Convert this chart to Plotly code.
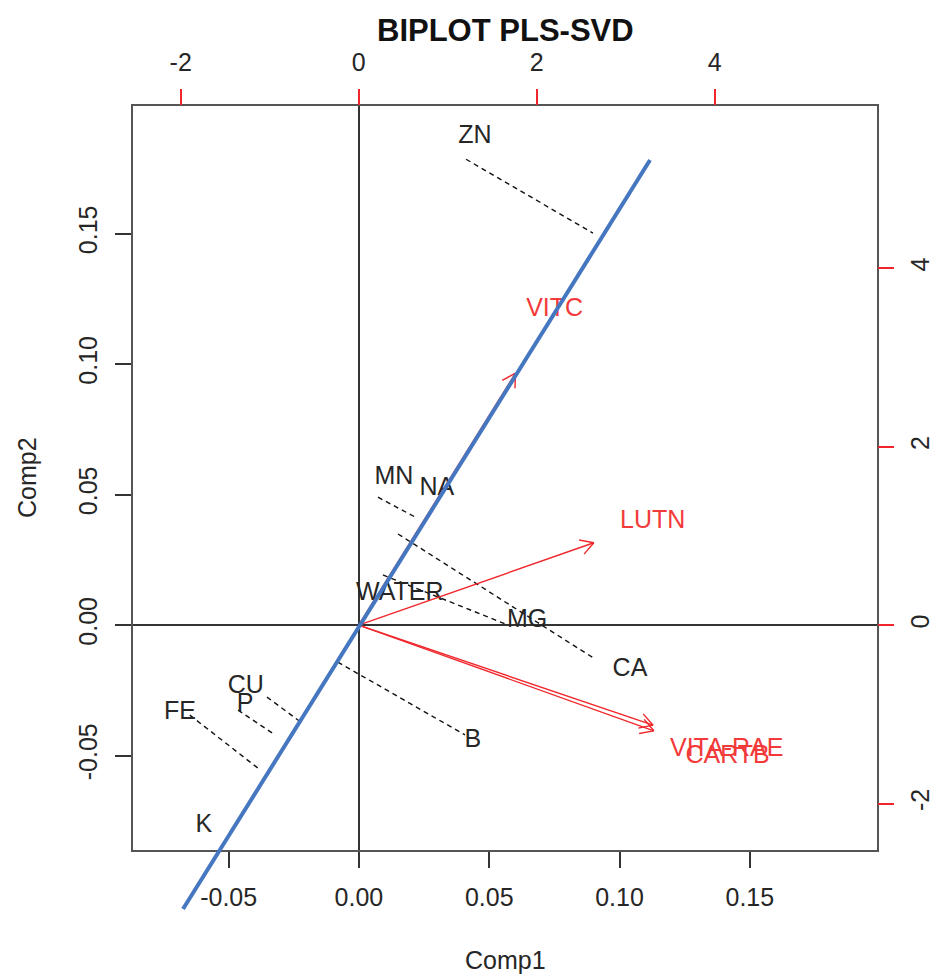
import plotly.graph_objects as go
import numpy as np

# ---------------- data ----------------
obs_labels = ["ZN", "MN", "NA", "WATER", "MG", "CA", "B", "CU", "P", "FE", "K"]
obs_x = [0.0445, 0.0134, 0.0299, 0.0157, 0.0645, 0.1040, 0.0437, -0.0434, -0.0437, -0.0687, -0.0595]
obs_y = [0.1870, 0.0563, 0.0521, 0.0119, 0.0015, -0.0172, -0.0444, -0.0238, -0.0307, -0.0337, -0.0770]

var_labels = ["VITC", "LUTN", "VITA-RAE", "CARTB"]
var_x = [2.202, 3.303, 4.135, 4.146]
var_y = [3.531, 1.155, -1.401, -1.480]
arrow_frac = 0.8

# dashed projection segments (Comp units)
proj_x0 = [0.0411, 0.0073, 0.0150, 0.0092, -0.0081, -0.0353, -0.0464, -0.0649]
proj_y0 = [0.1785, 0.0490, 0.0349, 0.0192, -0.0142, -0.0276, -0.0326, -0.0345]
proj_x1 = [0.0898, 0.0223, 0.0906, 0.0572, 0.0407, -0.0219, -0.0322, -0.0388]
proj_y1 = [0.1502, 0.0410, -0.0130, 0.0000, -0.0421, -0.0375, -0.0421, -0.0548]

# blue direction line (Comp units)
dir_x = [-0.0675, 0.1117]
dir_y = [-0.1088, 0.1782]

x_ticks = [-0.05, 0.0, 0.05, 0.10, 0.15]
x_ticktext = ["-0.05", "0.00", "0.05", "0.10", "0.15"]
y_ticks = [-0.05, 0.0, 0.05, 0.10, 0.15]
y_ticktext = ["-0.05", "0.00", "0.05", "0.10", "0.15"]
x2_ticks = [-2, 0, 2, 4]
x2_ticktext = ["-2", "0", "2", "4"]
y2_ticks = [-2, 0, 2, 4]
y2_ticktext = ["-2", "0", "2", "4"]

title_text = "BIPLOT PLS-SVD"
xlab = "Comp1"
ylab = "Comp2"

# ---------------- layout constants ----------------
W, H = 934, 978
ML, MR, MT, MB = 133, 57, 106, 128
PW, PH = W - ML - MR, H - MT - MB
XR = [-0.0867, 0.1988]
YR = [-0.0862, 0.1989]
X2R = [-2.536, 5.824]
Y2R = [-2.52, 5.82]

FONT = "Liberation Sans, Arial, sans-serif"
TXT = "#262626"
RED = "#f0262b"
RED_TXT = "#f23a3a"
BLUE = "#4576c0"

fig = go.Figure()

# dashed projections
dx, dy = [], []
for a, b, c, d in zip(proj_x0, proj_y0, proj_x1, proj_y1):
    dx += [a, c, None]
    dy += [b, d, None]
fig.add_trace(go.Scatter(x=dx, y=dy, mode="lines",
                         line=dict(color="#111111", width=1.4, dash="5px,4px"),
                         hoverinfo="skip", showlegend=False))

# red arrows on secondary axes
ppx = PW / (X2R[1] - X2R[0])
ppy = PH / (Y2R[1] - Y2R[0])
ax_, ay_ = [], []
L = 15.0
ang = np.deg2rad(30)
for vx, vy in zip(var_x, var_y):
    tx, ty = vx * arrow_frac, vy * arrow_frac
    ax_ += [0, tx, None]
    ay_ += [0, ty, None]
    ux, uy = tx * ppx, ty * ppy
    n = np.hypot(ux, uy)
    ux, uy = ux / n, uy / n
    for s in (ang, -ang):
        rx = ux * np.cos(s) - uy * np.sin(s)
        ry = ux * np.sin(s) + uy * np.cos(s)
        bx = tx - L * rx / ppx
        by = ty - L * ry / ppy
        ax_ += [tx, bx, None]
        ay_ += [ty, by, None]
fig.add_trace(go.Scatter(x=ax_, y=ay_, mode="lines", xaxis="x2", yaxis="y2",
                         line=dict(color=RED, width=1.4),
                         hoverinfo="skip", showlegend=False))

# variable labels
fig.add_trace(go.Scatter(x=var_x, y=var_y, mode="text", text=var_labels,
                         xaxis="x2", yaxis="y2",
                         textfont=dict(family=FONT, size=25, color=RED_TXT),
                         textposition="middle center", hoverinfo="skip",
                         showlegend=False, cliponaxis=False))

# observation labels
fig.add_trace(go.Scatter(x=obs_x, y=obs_y, mode="text", text=obs_labels,
                         textfont=dict(family=FONT, size=25, color=TXT),
                         textposition="middle center", hoverinfo="skip",
                         showlegend=False, cliponaxis=False))

# blue line in paper coordinates (not clipped, extends beyond frame like the reference)
def xp(v):
    return (v - XR[0]) / (XR[1] - XR[0])

def yp(v):
    return (v - YR[0]) / (YR[1] - YR[0])

fig.add_shape(type="line", xref="paper", yref="paper",
              x0=xp(dir_x[0]), y0=yp(dir_y[0]), x1=xp(dir_x[1]), y1=yp(dir_y[1]),
              line=dict(color=BLUE, width=4), layer="above")

tickfont = dict(family=FONT, size=25, color=TXT)
fig.update_layout(
    template="none",
    width=W, height=H,
    margin=dict(l=ML, r=MR, t=MT, b=MB, pad=0, autoexpand=False),
    paper_bgcolor="white", plot_bgcolor="white",
    showlegend=False,
    xaxis=dict(range=XR, tickmode="array", tickvals=x_ticks, ticktext=x_ticktext,
               ticks="outside", ticklen=16, tickwidth=1.5, tickcolor="#333333",
               tickfont=tickfont, showgrid=False, automargin=False,
               zeroline=True, zerolinecolor="#333333", zerolinewidth=1.5,
               showline=True, linecolor="#555555", linewidth=1.5, mirror=True,
               ticklabelstandoff=8),
    yaxis=dict(range=YR, tickmode="array", tickvals=y_ticks, ticktext=y_ticktext,
               ticks="outside", ticklen=16, tickwidth=1.5, tickcolor="#333333",
               tickfont=tickfont, tickangle=-90, showgrid=False, automargin=False,
               zeroline=True, zerolinecolor="#333333", zerolinewidth=1.5,
               showline=True, linecolor="#555555", linewidth=1.5, mirror=True,
               ticklabelstandoff=8),
    xaxis2=dict(range=X2R, overlaying="x", side="top", anchor="y",
                tickmode="array", tickvals=x2_ticks, ticktext=x2_ticktext,
                ticks="outside", ticklen=16, tickwidth=1.5, tickcolor=RED,
                tickfont=tickfont, showgrid=False, zeroline=False, showline=False,
                automargin=False, ticklabelstandoff=8),
    yaxis2=dict(range=Y2R, overlaying="y", side="right", anchor="x",
                tickmode="array", tickvals=y2_ticks, ticktext=y2_ticktext,
                ticks="outside", ticklen=16, tickwidth=1.5, tickcolor=RED,
                tickfont=tickfont, tickangle=-90, showgrid=False, zeroline=False,
                showline=False, automargin=False, ticklabelstandoff=5),
    annotations=[
        dict(text="<b>" + title_text + "</b>", xref="paper", yref="paper",
             x=0.5, y=1, yshift=76, xanchor="center", yanchor="middle",
             showarrow=False, font=dict(family=FONT, size=31, color="#111111")),
        dict(text=xlab, xref="paper", yref="paper", x=0.5, y=0, yshift=-110,
             xanchor="center", yanchor="middle", showarrow=False,
             font=dict(family=FONT, size=25, color=TXT)),
        dict(text=ylab, xref="paper", yref="paper", x=0, y=0.5, xshift=-106,
             xanchor="center", yanchor="middle", textangle=-90, showarrow=False,
             font=dict(family=FONT, size=25, color=TXT)),
    ],
)

fig.write_html("out.html", config={"displayModeBar": False},
               post_script="document.body.style.margin='0';document.body.style.overflow='hidden';")
